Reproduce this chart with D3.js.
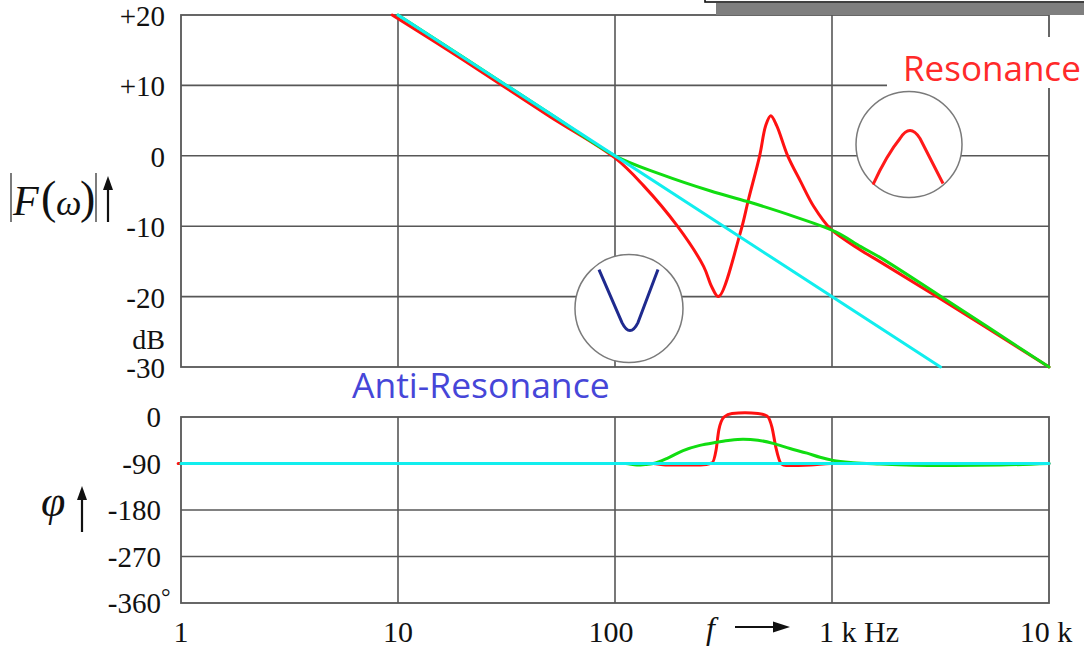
<!DOCTYPE html>
<html>
<head>
<meta charset="utf-8">
<script src="https://cdn.jsdelivr.net/npm/d3@7"></script>
<style>
  html, body { margin: 0; padding: 0; background: #fff; }
  svg { display: block; }
</style>
</head>
<body>
<div id="chart"></div>
<script>
// Axis ticks and labels
const freqTicks = [1, 10, 100, 1000, 10000];
const freqLabels = ["1", "10", "100", "1 k Hz", "10 k"];
const dbTicks = [20, 10, 0, -10, -20, -30];
const dbLabels = ["+20", "+10", "0", "-10", "-20", "-30"];
const phaseTicks = [0, -90, -180, -270, -360];
const phaseLabels = ["0", "-90", "-180", "-270", "-360"];

// Magnitude |F(w)| in dB
const cyanMagFreq = [10, 3162];
const cyanMagDb = [20, -30];
const greenMagFreq = [10, 20, 50, 100, 162, 276, 408, 666, 1040, 1357, 1679, 3076, 10000];
const greenMagDb = [20, 14, 6, 0, -2.6, -5.0, -6.5, -8.6, -10.8, -12.9, -14.5, -19.7, -30];
const redMagFreq = [9.4, 20, 50, 100, 135, 194, 256, 279, 300, 379, 413, 464, 495, 522, 556, 625, 718, 824, 986, 1357, 1675, 3076, 10000];
const redMagDb = [20, 13.6, 5.6, -0.3, -4.2, -10, -15.7, -18.6, -20, -10.8, -6.1, 0, 4.3, 5.7, 4.3, 0, -3.7, -7.2, -10.4, -13.4, -15.1, -20.1, -30];

// Phase in degrees
const cyanPhaseFreq = [1, 10000];
const cyanPhaseDeg = [-90, -90];
const greenPhaseFreq = [1, 112, 126, 138, 150, 176, 206, 246, 295, 339, 389, 456, 535, 640, 767, 881, 1011, 1250, 1664, 3175, 6000, 10000];
const greenPhaseDeg = [-90, -90, -93, -92, -90, -79, -65, -55, -49, -45, -43, -45, -51, -61, -70, -78, -84, -88.5, -91, -94, -93, -90];
const redPhaseFreq = [0.97, 150, 171, 248, 280, 292, 301, 318, 346, 397, 456, 502, 529, 552, 582, 614, 798, 986, 10000];
const redPhaseDeg = [-90, -90, -93, -93, -89, -65, -25, 0, 7, 8, 7, 2, -20, -60, -90, -94, -93, -90, -90];

// Annotation anchors (frequency, dB)
const resonanceMark = [2264, 1.6];
const antiResonanceMark = [116, -21.7];

const svgWidth = 1084;
const svgHeight = 649;

const svg = d3.select("#chart")
    .append("svg")
    .attr("width", svgWidth)
    .attr("height", svgHeight);

const serif = "'Liberation Serif', 'Times New Roman', serif";
const sans = "'Open Sans', 'Noto Sans', sans-serif";
const gridColor = "#575757";

// Scales
const x = d3.scaleLog().domain([1, 10000]).range([181, 1049]);
const yMag = d3.scaleLinear().domain([-30, 20]).range([367, 15]);
const yPhase = d3.scaleLinear().domain([-360, 0]).range([603, 417]);

// Draws grid + frame for one panel
function drawPanel(yScale, yTicks) {
    const top = yScale.range()[1];
    const bottom = yScale.range()[0];
    const g = svg.append("g");

    g.selectAll("line.v")
        .data(freqTicks.slice(1, -1))
        .enter().append("line")
        .attr("x1", d => x(d)).attr("x2", d => x(d))
        .attr("y1", top).attr("y2", bottom)
        .attr("stroke", gridColor).attr("stroke-width", 1.6);

    g.selectAll("line.h")
        .data(yTicks.slice(1, -1))
        .enter().append("line")
        .attr("x1", x.range()[0]).attr("x2", x.range()[1])
        .attr("y1", d => yScale(d)).attr("y2", d => yScale(d))
        .attr("stroke", gridColor).attr("stroke-width", 1.6);

    g.append("rect")
        .attr("x", x.range()[0]).attr("y", top)
        .attr("width", x.range()[1] - x.range()[0])
        .attr("height", bottom - top)
        .attr("fill", "none")
        .attr("stroke", gridColor).attr("stroke-width", 1.8);
}

drawPanel(yMag, dbTicks);
drawPanel(yPhase, phaseTicks);

// Y tick labels
svg.append("g").selectAll("text")
    .data(dbTicks)
    .enter().append("text")
    .attr("x", 165)
    .attr("y", d => yMag(d))
    .attr("dy", "0.38em")
    .attr("text-anchor", "end")
    .style("font-family", serif).style("font-size", "29px")
    .attr("fill", "#111")
    .text((d, i) => dbLabels[i]);

svg.append("text")
    .attr("x", 165).attr("y", 349)
    .attr("text-anchor", "end")
    .style("font-family", serif).style("font-size", "28px")
    .attr("fill", "#111")
    .text("dB");

svg.append("g").selectAll("text")
    .data(phaseTicks)
    .enter().append("text")
    .attr("x", 161)
    .attr("y", d => yPhase(d))
    .attr("dy", "0.35em")
    .attr("text-anchor", "end")
    .style("font-family", serif).style("font-size", "29px")
    .attr("fill", "#111")
    .text((d, i) => phaseLabels[i]);

svg.append("text")
    .attr("x", 161).attr("y", yPhase(-360) + 2)
    .style("font-family", serif).style("font-size", "24px")
    .attr("fill", "#111")
    .text("°");

// X tick labels (some are shifted like the original)
svg.append("g").selectAll("text")
    .data(freqTicks)
    .enter().append("text")
    .attr("x", (d, i) => i === 3 ? x(d) - 13 : i === 2 ? x(d) - 4 : i === 4 ? x(d) - 3 : x(d))
    .attr("y", 642)
    .attr("text-anchor", (d, i) => i === 3 ? "start" : "middle")
    .style("font-family", serif).style("font-size", "30px")
    .attr("fill", "#111")
    .text((d, i) => freqLabels[i]);

// f --> arrow
svg.append("text")
    .attr("x", 706).attr("y", 639)
    .style("font-family", serif).style("font-size", "32px").style("font-style", "italic")
    .attr("fill", "#111")
    .text("f");
svg.append("line")
    .attr("x1", 735).attr("x2", 776).attr("y1", 627).attr("y2", 627)
    .attr("stroke", "#111").attr("stroke-width", 2);
svg.append("path")
    .attr("d", "M790,627 L773,621.5 L773,632.5 Z")
    .attr("fill", "#111");

// Y axis titles
const titleG = svg.append("g")
    .style("font-family", serif).attr("fill", "#111");
titleG.append("line").attr("x1", 11).attr("x2", 11).attr("y1", 173).attr("y2", 222)
    .attr("stroke", "#444").attr("stroke-width", 1.4);
titleG.append("text").attr("x", 13).attr("y", 215)
    .style("font-size", "42px").style("font-style", "italic").text("F");
titleG.append("text").attr("x", 41).attr("y", 213)
    .style("font-size", "46px").text("(");
titleG.append("text").attr("x", 56).attr("y", 215)
    .style("font-size", "36px").style("font-style", "italic").text("ω");
titleG.append("text").attr("x", 80).attr("y", 213)
    .style("font-size", "46px").text(")");
titleG.append("line").attr("x1", 96).attr("x2", 96).attr("y1", 173).attr("y2", 222)
    .attr("stroke", "#444").attr("stroke-width", 1.4);

function upArrow(cx, yTop, yBottom) {
    svg.append("line")
        .attr("x1", cx).attr("x2", cx).attr("y1", yTop + 10).attr("y2", yBottom)
        .attr("stroke", "#111").attr("stroke-width", 2.2);
    svg.append("path")
        .attr("d", `M${cx},${yTop} L${cx - 5},${yTop + 14} L${cx + 5},${yTop + 14} Z`)
        .attr("fill", "#111");
}
upArrow(108, 176, 222);

titleG.append("text").attr("x", 41).attr("y", 516)
    .style("font-size", "44px").style("font-style", "italic").text("φ");
upArrow(82, 486, 532);

// Inset circles with the resonance shapes
function insetCircle(pos, r, pathD, color) {
    const cx = x(pos[0]);
    const cy = yMag(pos[1]);
    svg.append("circle")
        .attr("cx", cx).attr("cy", cy).attr("r", r)
        .attr("fill", "#fff")
        .attr("stroke", "#7a7a7a").attr("stroke-width", 1.5);
    svg.append("path")
        .attr("transform", `translate(${cx},${cy})`)
        .attr("d", pathD)
        .attr("fill", "none")
        .attr("stroke", color).attr("stroke-width", 3)
        .attr("stroke-linejoin", "round");
}
insetCircle(antiResonanceMark, 54, "M-30,-39 L-7,14 Q1,30 9,14 L29,-39", "#1f2a8e");
insetCircle(resonanceMark, 53, "M-36,40 Q-22,10 -9,-6 Q1,-22 11,-6 L34,39", "#ff1a1a");

// Curves
const magLine = d3.line()
    .x(d => x(d[0])).y(d => yMag(d[1]))
    .curve(d3.curveCatmullRom.alpha(0.5));
const phaseLine = d3.line()
    .x(d => x(d[0])).y(d => yPhase(d[1]))
    .curve(d3.curveMonotoneX);

const curves = [
    { line: magLine, f: redMagFreq, v: redMagDb, color: "#ff1111" },
    { line: magLine, f: greenMagFreq, v: greenMagDb, color: "#11dd11" },
    { line: magLine, f: cyanMagFreq, v: cyanMagDb, color: "#11eeee" },
    { line: phaseLine, f: redPhaseFreq, v: redPhaseDeg, color: "#ff1111" },
    { line: phaseLine, f: greenPhaseFreq, v: greenPhaseDeg, color: "#11dd11" },
    { line: phaseLine, f: cyanPhaseFreq, v: cyanPhaseDeg, color: "#11eeee" }
];

curves.forEach(c => {
    svg.append("path")
        .datum(d3.zip(c.f, c.v))
        .attr("d", c.line)
        .attr("fill", "none")
        .attr("stroke", c.color)
        .attr("stroke-width", 3)
        .attr("stroke-linejoin", "round")
        .attr("stroke-linecap", "round");
});

// Labels for resonance / anti-resonance
svg.append("rect")
    .attr("x", 887).attr("y", 37).attr("width", 197).attr("height", 51)
    .attr("fill", "#fff");
svg.append("text")
    .attr("x", 903).attr("y", 81)
    .style("font-family", sans).style("font-size", "35px")
    .attr("fill", "#ff2a2a")
    .text("Resonance");

svg.append("text")
    .attr("x", 352).attr("y", 398)
    .style("font-family", sans).style("font-size", "35.5px")
    .attr("fill", "#4646d8")
    .text("Anti-Resonance");

// Box with shadow cut off at the top edge
svg.append("rect")
    .attr("x", 716).attr("y", 3).attr("width", 380).attr("height", 12)
    .attr("fill", "#7f7f7f");
svg.append("rect")
    .attr("x", 705).attr("y", -20).attr("width", 390).attr("height", 22)
    .attr("fill", "#fff")
    .attr("stroke", "#111").attr("stroke-width", 1.6);
</script>
</body>
</html>
